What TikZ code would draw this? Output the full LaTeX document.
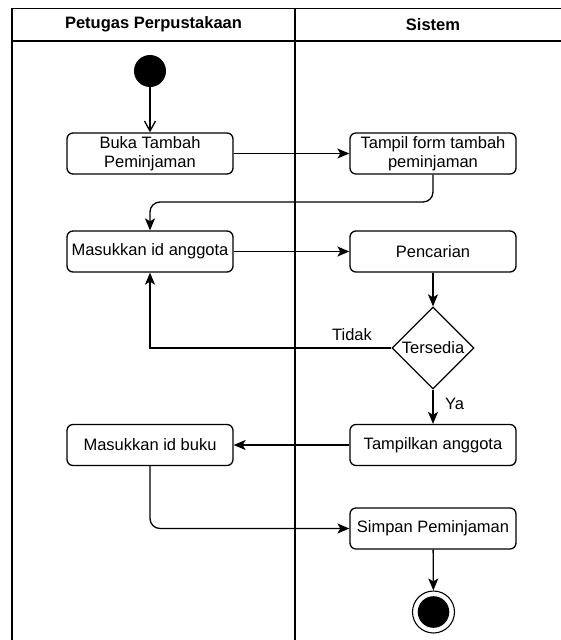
\documentclass[tikz,border=0pt]{standalone}
\usepackage{fontspec}
\setmainfont{Liberation Sans}
\usetikzlibrary{shapes.geometric,arrows.meta}
\begin{document}
\begin{tikzpicture}[x=1pt,y=-1pt,
  lane/.style={line width=1.8pt},
  act/.style={draw, line width=1.3pt, rounded corners=6pt, minimum width=166pt, minimum height=41pt, inner sep=0pt, align=center, font=\fontsize{16.5}{19.5}\selectfont},
  dec/.style={draw, diamond, aspect=1, line width=1.3pt, minimum width=82pt, minimum height=82pt, inner sep=0pt, font=\fontsize{16.5}{19.5}\selectfont},
  flow/.style={line width=1.3pt, -{Stealth[length=12pt,width=10pt,inset=3pt]}},
  openflow/.style={line width=1.3pt, -{Straight Barb[length=10pt,width=11pt]}},
  lbl/.style={font=\fontsize{16.5}{19.5}\selectfont, inner sep=0pt},
  hdr/.style={font=\bfseries\fontsize{16.5}{19.5}\selectfont, inner sep=0pt}]
\useasboundingbox (0,0) rectangle (561,640);
\fill[white] (0,0) rectangle (561,640);
% swimlanes
\draw[lane] (12,640) -- (12,8.5) -- (561,8.5);
\draw[lane] (12,41) -- (561,41);
\draw[lane] (295,8.5) -- (295,640);
\node[hdr] (h1) at (153.5,24.5) {Petugas Perpustakaan};
\node[hdr] (h2) at (433,24.5) {Sistem};
% nodes
\node[circle, fill=black, minimum size=32pt, inner sep=0pt] (start) at (150,71) {};
\node[act] (buka) at (150,153.5) {Buka Tambah\\Peminjaman};
\node[act] (tampil) at (433,153.5) {Tampil form tambah\\peminjaman};
\node[act] (masuk) at (150,251.5) {Masukkan id anggota};
\node[act] (cari) at (433,251.5) {Pencarian};
\node[dec] (ada) at (433,348) {Tersedia};
\node[act] (tampilkan) at (433,445) {Tampilkan anggota};
\node[act] (buku) at (150,445) {Masukkan id buku};
\node[act] (simpan) at (433,528.5) {Simpan Peminjaman};
\node[circle, draw, line width=1.1pt, minimum size=42pt, inner sep=0pt] (end) at (433.5,612) {};
\fill[black] (end.center) circle (15.8pt);
\coordinate (m1) at (433,202);
\coordinate (m2) at (150,202);
\coordinate (m3) at (150,348);
\coordinate (m4) at (150,528.5);
% connectors
\draw[openflow] (start) -- (buka);
\draw[flow] (buka) -- (tampil);
\draw[flow, rounded corners=10pt] (tampil.south) -- (m1) -- (m2) -- (masuk.north);
\draw[flow] (masuk) -- (cari);
\draw[flow] (cari) -- (ada);
\draw[flow] (ada.west) -- (m3) -- (masuk.south);
\draw[flow] (ada.south) -- (tampilkan.north);
\draw[flow] (tampilkan) -- (buku);
\draw[flow, rounded corners=10pt] (buku.south) -- (m4) -- (simpan.west);
\draw[flow] (simpan) -- (end);
\node[lbl] (tidak) at (352,334.5) {Tidak};
\node[lbl] (ya) at (454.5,404) {Ya};
\end{tikzpicture}
\end{document}
